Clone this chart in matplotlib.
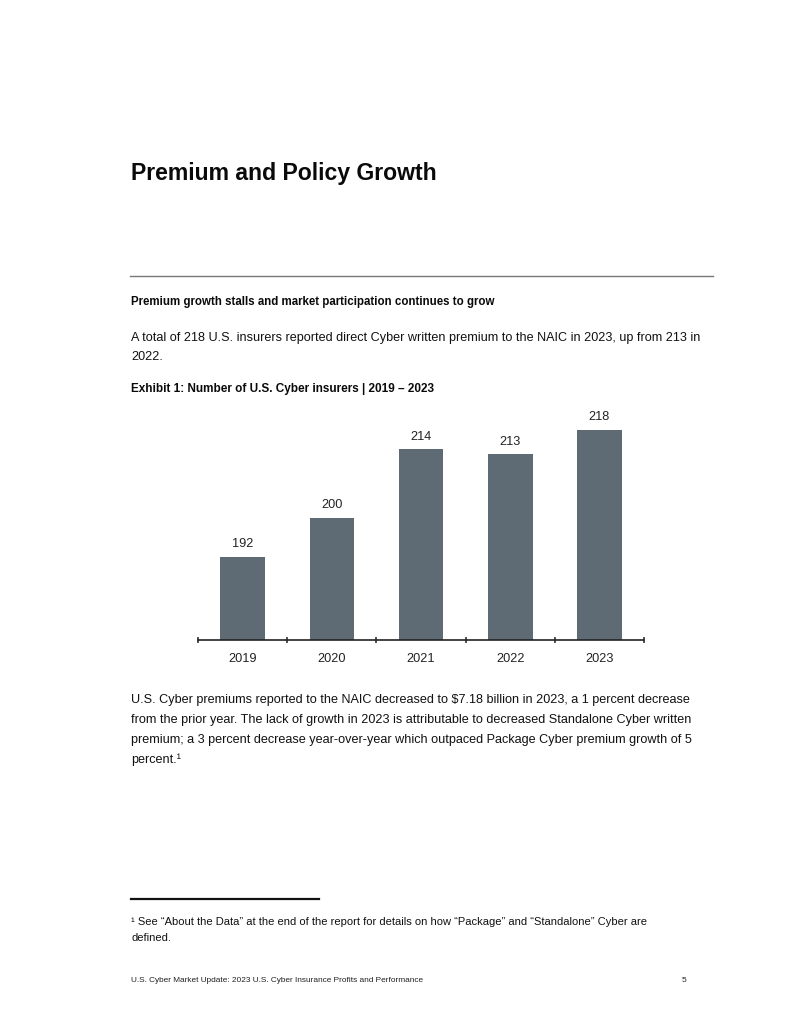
import matplotlib
matplotlib.use("Agg")
import matplotlib.pyplot as plt

# data
years = ["2019", "2020", "2021", "2022", "2023"]
insurers = [192, 200, 214, 213, 218]

bar_color = "#5e6b74"
plt.rcParams['font.family'] = ['Liberation Sans', 'DejaVu Sans']

W, H = 800, 1035
fig = plt.figure(figsize=(W / 100, H / 100), dpi=100)


def put(x, y, s, **kw):
    # x, y in pixels from the top-left corner of the page
    fig.text(x / W, 1 - y / H, s, **kw)


def hline(x0, x1, y, **kw):
    fig.add_artist(plt.Line2D([x0 / W, x1 / W], [1 - y / H, 1 - y / H],
                              transform=fig.transFigure, **kw))


put(131, 180, "Premium and Policy Growth", fontsize=16.6, fontweight='bold',
    color='#0a0a0a', va='baseline')
hline(130, 713, 276, color='#777777', lw=1)

put(131, 305, "Premium growth stalls and market participation continues to grow",
    fontsize=8.3, fontweight='bold', color='#0a0a0a', va='baseline')
put(131, 341, "A total of 218 U.S. insurers reported direct Cyber written premium "
    "to the NAIC in 2023, up from 213 in", fontsize=9.08, color='#111111', va='baseline')
put(131, 360, "2022.", fontsize=9.08, color='#111111', va='baseline')
put(131, 392, "Exhibit 1: Number of U.S. Cyber insurers | 2019 \u2013 2023",
    fontsize=8.5, fontweight='bold', color='#0a0a0a', va='baseline')

# chart
left, right, top, base = 198, 644, 410, 639.5
ax = fig.add_axes([left / W, 1 - base / H, (right - left) / W, (base - top) / H])
x = list(range(len(years)))
bars = ax.bar(x, insurers, width=0.5, color=bar_color, zorder=2)
ax.set_xlim(-0.5, len(years) - 0.5)
ax.set_ylim(175, 222.1)
for b, v in zip(bars, insurers):
    ax.annotate(str(v), (b.get_x() + b.get_width() / 2, v), xytext=(0, 9),
                textcoords='offset points', ha='center', va='center',
                fontsize=9.2, color='#222222')
for s in ['top', 'right', 'left']:
    ax.spines[s].set_visible(False)
ax.spines['bottom'].set_color('#222222')
ax.spines['bottom'].set_linewidth(1.2)
ax.set_yticks([])
ax.set_xticks(x)
ax.set_xticklabels(years, fontsize=9.2, color='#222222')
ax.tick_params(axis='x', which='major', length=0, pad=10)
ax.set_xticks([i - 0.5 for i in range(len(years) + 1)], minor=True)
ax.tick_params(axis='x', which='minor', length=5, width=1.1, direction='inout',
               color='#222222')

para = [
    "U.S. Cyber premiums reported to the NAIC decreased to $7.18 billion in 2023, a 1 percent decrease",
    "from the prior year. The lack of growth in 2023 is attributable to decreased Standalone Cyber written",
    "premium; a 3 percent decrease year-over-year which outpaced Package Cyber premium growth of 5",
    "percent.\u00b9",
]
for i, line in enumerate(para):
    put(131, 703 + i * 20, line, fontsize=9.08, color='#111111', va='baseline')

hline(131, 319, 899, color='#111111', lw=1.6)
put(131, 925, "\u00b9 See \u201cAbout the Data\u201d at the end of the report for details on how "
    "\u201cPackage\u201d and \u201cStandalone\u201d Cyber are", fontsize=8.05, color='#111111',
    va='baseline')
put(131, 941, "defined.", fontsize=8.05, color='#111111', va='baseline')

put(131, 982, "U.S. Cyber Market Update: 2023 U.S. Cyber Insurance Profits and Performance",
    fontsize=5.97, color='#222222', va='baseline')
put(686, 982, "5", fontsize=6, color='#222222', va='baseline', ha='right')

fig.savefig("out.png", dpi=100)
